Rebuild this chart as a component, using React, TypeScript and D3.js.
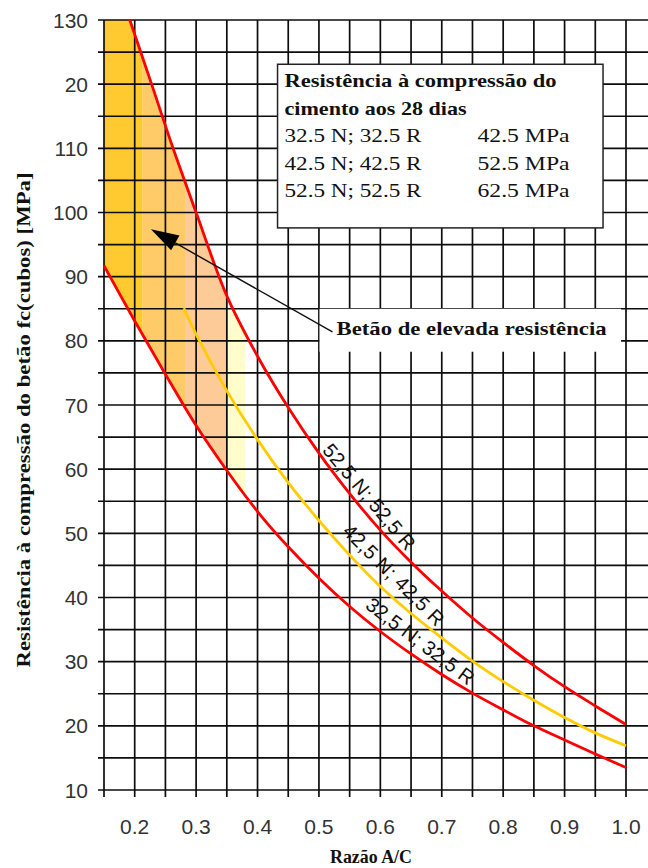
import React from "react";
import * as d3 from "d3";

const W = 648;
const H = 868;

// Curves (water/cement ratio -> cube strength, MPa)
const wc525 = [0.192, 0.2275, 0.2625, 0.3, 0.35, 0.4, 0.45, 0.5, 0.55, 0.6, 0.65, 0.7, 0.75, 0.8, 0.85, 0.9, 0.95, 1.0];
const fc525 = [130, 120, 110, 100, 87, 77.6, 69.6, 62.5, 56.2, 50.5, 45.5, 41, 36.8, 33, 29.4, 26.1, 23.1, 20.2];
const wc425 = [0.28, 0.3, 0.35, 0.4, 0.45, 0.5, 0.55, 0.6, 0.65, 0.7, 0.75, 0.8, 0.85, 0.9, 0.95, 1.0];
const fc425 = [85.1, 81, 72.2, 64.6, 57.9, 52, 46.6, 41.7, 37.5, 33.7, 30.1, 26.9, 24, 21.3, 18.9, 16.9];
const wc325 = [0.15, 0.2, 0.25, 0.3, 0.35, 0.4, 0.45, 0.5, 0.55, 0.6, 0.65, 0.7, 0.75, 0.8, 0.85, 0.9, 0.95, 1.0];
const fc325 = [91.7, 83.1, 74.8, 66.8, 59.8, 53.4, 47.9, 43, 38.6, 34.7, 31.2, 28, 25.1, 22.5, 20, 17.8, 15.6, 13.5];

// High-strength concrete shading zones
const zoneEdges = [0.15, 0.213, 0.282, 0.352, 0.38];
const zoneColors = ["#FFCA30", "#FECB68", "#FDCB98", "#FFFDCC"];
const zoneCaps = [130, 130, 130, 85];

// Axes
const xTicks = [0.2, 0.3, 0.4, 0.5, 0.6, 0.7, 0.8, 0.9, 1.0];
const xTickLabels = ["0.2", "0.3", "0.4", "0.5", "0.6", "0.7", "0.8", "0.9", "1.0"];
const yTicks = [10, 20, 30, 40, 50, 60, 70, 80, 90, 100, 110, 120, 130];
const yTickLabels = ["10", "20", "30", "40", "50", "60", "70", "80", "90", "100", "110", "20", "130"];

// Texts
const legendTitle = ["Resistência à compressão do", "cimento aos 28 dias"];
const legendClasses = ["32.5 N; 32.5 R", "42.5 N; 42.5 R", "52.5 N; 52.5 R"];
const legendStrengths = ["42.5 MPa", "52.5 MPa", "62.5 MPa"];
const curveLabels = ["52,5 N; 52,5 R", "42,5 N; 42,5 R", "32,5 N; 32,5 R"];
const annotationText = "Betão de elevada resistência";
const xTitle = "Razão A/C";
const yTitle = "Resistência à compressão do betão fc(cubos) [MPa]";

const SERIF = "'Liberation Serif', 'Times New Roman', serif";
const SANS = "'Liberation Sans', Arial, sans-serif";

export default function App() {
  const x = d3.scaleLinear().domain([0.15, 1.0]).range([104, 626]);
  const y = d3.scaleLinear().domain([10, 130]).range([790, 20]);

  const line = d3
    .line<[number, number]>()
    .x((d) => x(d[0]))
    .y((d) => y(d[1]))
    .curve(d3.curveCatmullRom.alpha(0.5));
  const poly = d3
    .line<[number, number]>()
    .x((d) => x(d[0]))
    .y((d) => y(d[1]));

  const pts = (xs: number[], ys: number[]) => xs.map((v, i) => [v, ys[i]] as [number, number]);
  const p525 = pts(wc525, fc525);
  const p425 = pts(wc425, fc425);
  const p325 = pts(wc325, fc325);

  const zonePolygon =
    poly([[0.15, 130] as [number, number], ...p525, ...p325.slice().reverse()]) + "Z";

  const gridX = d3.range(0.15, 1.0001, 0.05);
  const gridY = d3.range(10, 130.001, 5);

  const xRight = W;

  // Legend box in data units
  const lb = { x0: x(0.4326), x1: x(0.9626), y0: y(123.1), y1: y(97.6) };
  // Annotation box
  const ab = { x0: x(0.501), x1: x(0.992), y0: y(85.0), y1: y(78.3) };
  const tip: [number, number] = [x(0.2264), y(97.4)];
  const tail: [number, number] = [x(0.522), y(81.4)];
  const ang = Math.atan2(tail[1] - tip[1], tail[0] - tip[0]);
  const headLen = 28;
  const headHalf = 8.5;
  const base: [number, number] = [tip[0] + headLen * Math.cos(ang), tip[1] + headLen * Math.sin(ang)];
  const headPts = [
    tip,
    [base[0] - headHalf * Math.sin(ang), base[1] + headHalf * Math.cos(ang)],
    [base[0] + headHalf * Math.sin(ang), base[1] - headHalf * Math.cos(ang)],
  ];

  const curveLabelPos = [
    { wc: 0.582, fc: 55.7, rot: 50, len: 132 },
    { wc: 0.622, fc: 43.5, rot: 45, len: 134 },
    { wc: 0.665, fc: 33.2, rot: 37, len: 130 },
  ];

  return (
    <div style={{ position: "absolute", left: 0, top: 0 }}>
      <svg width={W} height={H} style={{ display: "block", background: "#fff" }}>
        <defs>
          {zoneColors.map((c, i) => (
            <clipPath id={`zone${i}`} key={i}>
              <rect
                x={x(zoneEdges[i])}
                y={y(zoneCaps[i])}
                width={x(zoneEdges[i + 1]) - x(zoneEdges[i])}
                height={y(10) - y(zoneCaps[i])}
              />
            </clipPath>
          ))}
        </defs>

        {/* shading */}
        {zoneColors.map((c, i) => (
          <path key={i} d={zonePolygon} fill={c} stroke="none" clipPath={`url(#zone${i})`} />
        ))}

        {/* grid */}
        {gridY.map((v) => (
          <line key={`h${v}`} x1={x(0.15) - 6} x2={xRight} y1={y(v)} y2={y(v)} stroke="#0d0d0d" strokeWidth={1.7} />
        ))}
        {gridX.map((v) => (
          <line key={`v${v}`} x1={x(v)} x2={x(v)} y1={y(130)} y2={y(10) + 7} stroke="#0d0d0d" strokeWidth={1.7} />
        ))}

        {/* curves */}
        <path d={line(p325) || ""} fill="none" stroke="#FF0000" strokeWidth={2.8} />
        <path d={line(p425) || ""} fill="none" stroke="#FFCC00" strokeWidth={2.8} />
        <path d={line(p525) || ""} fill="none" stroke="#FF0000" strokeWidth={2.8} />

        {/* curve labels */}
        {curveLabels.map((t, i) => {
          const p = curveLabelPos[i];
          return (
            <g key={t} transform={`translate(${x(p.wc)},${y(p.fc)}) rotate(${p.rot})`}>
              <text
                textAnchor="middle"
                dominantBaseline="central"
                fontFamily={SANS}
                fontSize={20}
                textLength={p.len}
                lengthAdjust="spacing"
                fill="#111"
              >
                {t}
              </text>
            </g>
          );
        })}

        {/* y tick labels */}
        {yTicks.map((v, i) => (
          <text
            key={`yl${v}`}
            x={88}
            y={y(v)}
            dy="0.36em"
            textAnchor="end"
            fontFamily={SANS}
            fontSize={21}
            fill="#333"
          >
            {yTickLabels[i]}
          </text>
        ))}
        {/* x tick labels */}
        {xTicks.map((v, i) => (
          <text
            key={`xl${v}`}
            x={x(v)}
            y={834}
            textAnchor="middle"
            fontFamily={SANS}
            fontSize={21}
            fill="#333"
          >
            {xTickLabels[i]}
          </text>
        ))}

        {/* axis titles */}
        <text
          x={371}
          y={863}
          textAnchor="middle"
          fontFamily={SERIF}
          fontWeight="bold"
          fontSize={18.5}
          textLength={82}
          lengthAdjust="spacingAndGlyphs"
          fill="#111"
        >
          {xTitle}
        </text>
        <g transform={`translate(30,420) rotate(-90)`}>
          <text
            x={0}
            y={0}
            textAnchor="middle"
            fontFamily={SERIF}
            fontWeight="bold"
            fontSize={18.5}
            textLength={495}
            lengthAdjust="spacingAndGlyphs"
            fill="#111"
          >
            {yTitle}
          </text>
        </g>

        {/* legend box */}
        <rect x={lb.x0} y={lb.y0} width={lb.x1 - lb.x0} height={lb.y1 - lb.y0} fill="#fff" stroke="#222" strokeWidth={1.5} />
        <text x={lb.x0 + 7} y={lb.y0 + 23} fontFamily={SERIF} fontWeight="bold" fontSize={19} textLength={272} lengthAdjust="spacingAndGlyphs" fill="#111">
          {legendTitle[0]}
        </text>
        <text x={lb.x0 + 7} y={lb.y0 + 51} fontFamily={SERIF} fontWeight="bold" fontSize={19} textLength={182} lengthAdjust="spacingAndGlyphs" fill="#111">
          {legendTitle[1]}
        </text>
        {legendClasses.map((t, i) => (
          <g key={t}>
            <text x={lb.x0 + 7} y={lb.y0 + 78 + i * 27.5} fontFamily={SERIF} fontSize={19} textLength={137} lengthAdjust="spacingAndGlyphs" fill="#111">
              {t}
            </text>
            <text x={lb.x0 + 200} y={lb.y0 + 78 + i * 27.5} fontFamily={SERIF} fontSize={19} textLength={92} lengthAdjust="spacingAndGlyphs" fill="#111">
              {legendStrengths[i]}
            </text>
          </g>
        ))}

        {/* annotation */}
        <rect x={ab.x0} y={ab.y0} width={ab.x1 - ab.x0} height={ab.y1 - ab.y0} fill="#fff" stroke="none" />
        <text x={ab.x0 + 17} y={ab.y0 + 26} fontFamily={SERIF} fontWeight="bold" fontSize={19} textLength={270} lengthAdjust="spacingAndGlyphs" fill="#111">
          {annotationText}
        </text>
        <line x1={tail[0]} y1={tail[1]} x2={base[0]} y2={base[1]} stroke="#111" strokeWidth={1.4} />
        <polygon points={headPts.map((p) => p.join(",")).join(" ")} fill="#000" />
      </svg>
    </div>
  );
}
